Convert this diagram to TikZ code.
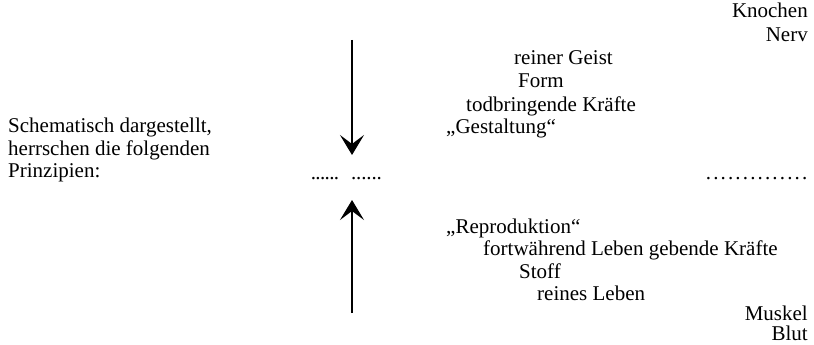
\documentclass[tikz,border=0pt]{standalone}
\usepackage{fontspec}
\setmainfont{Liberation Serif}
\usetikzlibrary{arrows.meta}
\tikzset{
  txt/.style={inner sep=0pt, font=\fontsize{21}{23}\selectfont},
  lw/.style={txt, anchor=base west},
  le/.style={txt, anchor=base east},
  flow/.style={line width=1.2pt, -{Stealth[length=20pt,width=24pt,inset=9pt]}}
}
\newcommand{\dotrow}[2]{\hbox to #1{\leaders\hbox to #2{\hss.\hss}\hfill}}
\begin{document}
\begin{tikzpicture}[x=1pt,y=-1pt]
\useasboundingbox (0,0) rectangle (814,345);
% left text
\node[lw] (s1) at (8,132) {Schematisch dargestellt,};
\node[lw] (s2) at (8,155) {herrschen die folgenden};
\node[lw] (s3) at (8,177) {Prinzipien:};
% upper right column
\node[le] (knochen) at (808,18) {Knochen};
\node[le] (nerv) at (808,42) {Nerv};
\node[lw] (geist) at (514,65) {reiner Geist};
\node[lw] (form) at (518,88) {Form};
\node[lw] (tod) at (466,111) {todbringende Kräfte};
\node[lw] (gest) at (446,133) {„Gestaltung“};
% dots
\node[lw] (dl) at (311,179) {\dotrow{28pt}{4.6pt}};
\node[lw] (dr) at (351,179) {\dotrow{31pt}{5.1pt}};
\node[le] (dfar) at (809,179) {\dotrow{104pt}{7.4pt}};
% lower right column
\node[lw] (repro) at (446,233) {„Reproduktion“};
\node[lw] (fort) at (483,255) {fortwährend Leben gebende Kräfte};
\node[lw] (stoff) at (519,278) {Stoff};
\node[lw] (rl) at (537,300) {reines Leben};
\node[le] (muskel) at (808,320) {Muskel};
\node[le] (blut) at (808,340) {Blut};
% arrows
\coordinate (atop) at (352,40);
\coordinate (adown) at (352,155);
\coordinate (bbot) at (352,313);
\coordinate (bup) at (352,200);
\draw[flow] (atop) -- (adown);
\draw[flow] (bbot) -- (bup);
\end{tikzpicture}
\end{document}
